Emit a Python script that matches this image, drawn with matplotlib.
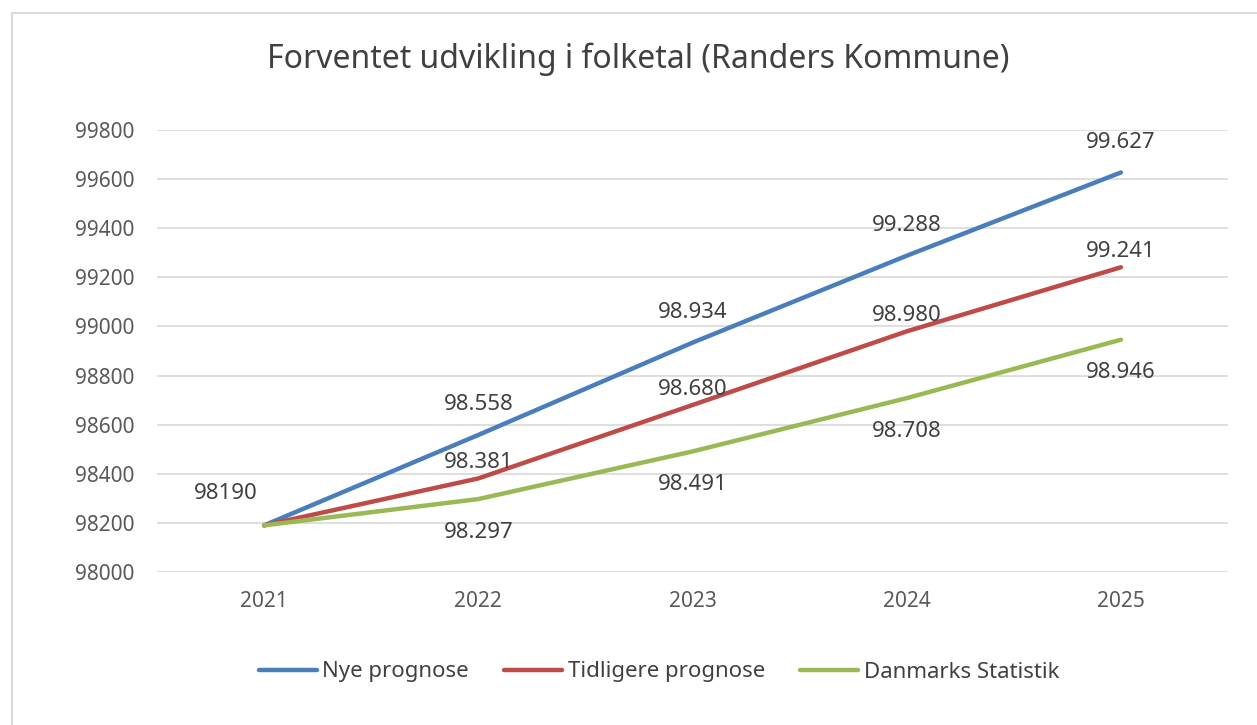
import matplotlib.pyplot as plt
from matplotlib.patches import Rectangle
from matplotlib import font_manager

years = ['2021', '2022', '2023', '2024', '2025']
nye = [98190, 98558, 98934, 99288, 99627]
tidligere = [98190, 98381, 98680, 98980, 99241]
danmarks = [98190, 98297, 98491, 98708, 98946]

series_names = ['Nye prognose', 'Tidligere prognose', 'Danmarks Statistik']
colors = ['#4a7ebb', '#be4b48', '#98b954']

names = {f.name for f in font_manager.fontManager.ttflist}
num_font = 'Noto Sans' if 'Noto Sans' in names else 'DejaVu Sans'
txt_font = num_font

fig = plt.figure(figsize=(12.57, 7.25), dpi=100)
fig.patches.append(Rectangle((12 / 1257, -0.05), 1.1, (725 - 13) / 725 + 0.05,
                             transform=fig.transFigure, fill=False,
                             edgecolor='#d9d9d9', linewidth=1.5))
ax = fig.add_axes([157 / 1257, (725 - 572) / 725, (1228 - 157) / 1257, (572 - 130) / 725])

x = list(range(len(years)))
for vals, name, c in zip([nye, tidligere, danmarks], series_names, colors):
    ax.plot(x, vals, color=c, lw=3.2, label=name, solid_capstyle='round')

def fmt(v, i):
    if i == 0:
        return str(v)
    return f'{v:,}'.replace(',', '.')

# label offsets in pixels (dx, dy)
offs = {
    0: [(0, 30)] * 5,
    1: [(0, 16)] * 5,
    2: [(0, -33)] * 5,
}
for si, vals in enumerate([nye, tidligere, danmarks]):
    for i, v in enumerate(vals):
        if i == 0 and si > 0:
            continue
        dx, dy = offs[si][i]
        if i == 0:
            dx, dy = -38, 32
        ax.annotate(fmt(v, i), (i, v), xytext=(dx * 0.72, dy * 0.72), textcoords='offset points',
                    ha='center', va='center', fontsize=16, color='#404040', family=num_font)

ax.set_xlim(-0.5, 4.5)
ax.set_ylim(98000, 99800)
ax.set_yticks(range(98000, 99801, 200))
ax.set_xticks(x)
ax.set_xticklabels(years)
ax.grid(axis='y', color='#d9d9d9', lw=1.2)
ax.set_axisbelow(True)
for s in ax.spines.values():
    s.set_visible(False)
ax.tick_params(length=0, labelsize=15, colors='#595959')
ax.tick_params(axis='y', pad=16)
ax.tick_params(axis='x', pad=14)
for lab in ax.get_xticklabels() + ax.get_yticklabels():
    lab.set_family(num_font)

fig.text(638 / 1257, (725 - 59) / 725, 'Forventet udvikling i folketal (Randers Kommune)',
         ha='center', va='center', fontsize=23, color='#404040', family=txt_font)

leg = fig.legend(loc='center', bbox_to_anchor=(659 / 1257, (725 - 672) / 725), ncol=3,
                 frameon=False, handlelength=2.6, handletextpad=0.25, columnspacing=1.6,
                 prop={'family': txt_font, 'size': 16})
for t in leg.get_texts():
    t.set_color('#404040')

fig.savefig('out.png', dpi=100)
